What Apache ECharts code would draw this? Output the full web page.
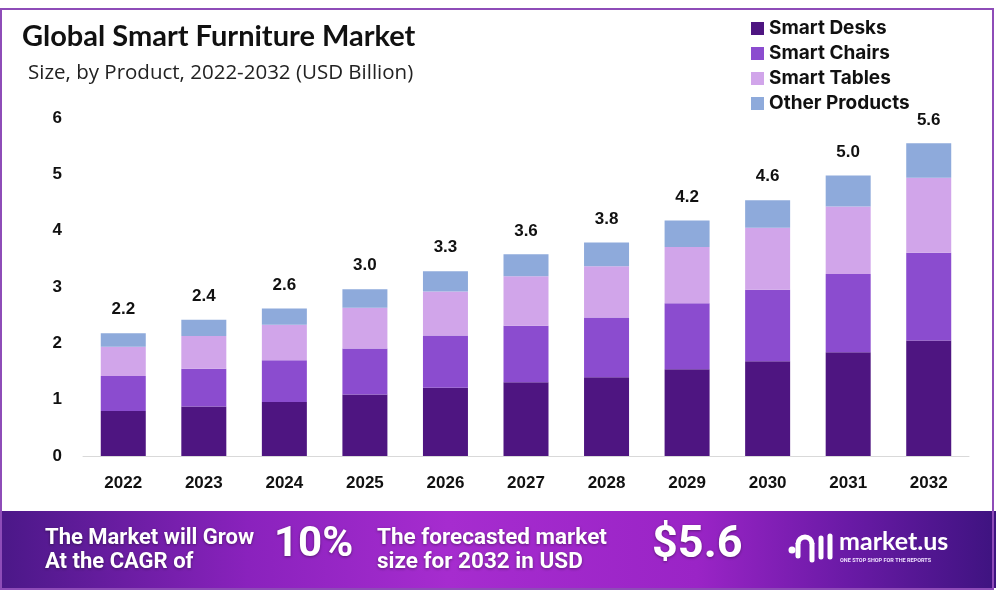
<!DOCTYPE html>
<html>
<head>
<meta charset="utf-8">
<script src="https://cdn.jsdelivr.net/npm/echarts@6/dist/echarts.min.js"></script>
<style>html,body{margin:0;padding:0;background:#fff}#c{width:996px;height:600px}</style>
</head>
<body>
<div id="c"></div>
<script>
const years = ['2022','2023','2024','2025','2026','2027','2028','2029','2030','2031','2032'];
const smartDesks    = [0.80, 0.88, 0.96, 1.09, 1.21, 1.31, 1.40, 1.54, 1.68, 1.84, 2.05];
const smartChairs   = [0.62, 0.67, 0.74, 0.82, 0.93, 1.00, 1.06, 1.17, 1.27, 1.39, 1.56];
const smartTables   = [0.52, 0.58, 0.63, 0.72, 0.78, 0.88, 0.91, 1.00, 1.10, 1.20, 1.33];
const otherProducts = [0.24, 0.29, 0.29, 0.33, 0.36, 0.39, 0.42, 0.47, 0.49, 0.55, 0.61];
const totalLabels   = ['2.2','2.4','2.6','3.0','3.3','3.6','3.8','4.2','4.6','5.0','5.6'];
const yTicks = [0,1,2,3,4,5,6];

const chart = echarts.init(document.getElementById('c'));
const numFont = 'Liberation Sans';
function barSeries(name, data, color, withLabel) {
  const s = {
    name, type: 'bar', stack: 'total', data, barWidth: 45,
    itemStyle: { color },
    emphasis: { disabled: true }
  };
  if (withLabel) {
    s.label = {
      show: true, position: 'top', distance: 15,
      formatter: p => totalLabels[p.dataIndex],
      fontFamily: numFont, fontWeight: 'bold', fontSize: 17, color: '#111'
    };
  }
  return s;
}
const shadow = { textShadowColor: 'rgba(0,0,0,0.4)', textShadowBlur: 3, textShadowOffsetY: 1 };
chart.setOption({
  animation: false,
  backgroundColor: '#fff',
  title: [
    { text: 'Global Smart Furniture Market', left: 17, top: 17,
      textStyle: { fontFamily: 'Lato', fontWeight: 'bold', fontSize: 29, color: '#111' } },
    { text: 'Size, by Product, 2022-2032 (USD Billion)', left: 23, top: 58,
      textStyle: { fontFamily: 'Open Sans', fontWeight: 'normal', fontSize: 20.5, color: '#222' } }
  ],
  legend: {
    orient: 'vertical', left: 746, top: 14, itemWidth: 13, itemHeight: 13, itemGap: 6,
    icon: 'rect',
    textStyle: { fontFamily: 'Inter', fontWeight: 'bold', fontSize: 19, color: '#111' },
    data: ['Smart Desks','Smart Chairs','Smart Tables','Other Products']
  },
  grid: { left: 83, right: 27, top: 118, bottom: 144 },
  xAxis: {
    type: 'category', data: years,
    axisLine: { lineStyle: { color: '#d9d9d9', width: 1 } },
    axisTick: { show: false },
    axisLabel: { margin: 19, fontFamily: numFont, fontWeight: 'bold', fontSize: 17, color: '#111' }
  },
  yAxis: {
    type: 'value', min: yTicks[0], max: yTicks[yTicks.length-1], interval: 1,
    splitLine: { show: false }, axisLine: { show: false }, axisTick: { show: false },
    axisLabel: { margin: 21, fontFamily: numFont, fontWeight: 'bold', fontSize: 17, color: '#111' }
  },
  series: [
    barSeries('Smart Desks', smartDesks, '#4e1581'),
    barSeries('Smart Chairs', smartChairs, '#8b4ccf'),
    barSeries('Smart Tables', smartTables, '#d1a5ea'),
    barSeries('Other Products', otherProducts, '#8eaadb', true)
  ],
  graphic: [
    { type: 'rect', x: 0, y: 511, z: -1, shape: { x: 0, y: 0, width: 996, height: 77 },
      style: { fill: new echarts.graphic.LinearGradient(0,0,1,0,[
        {offset:0,color:'#4b1888'},{offset:0.25,color:'#8a22bd'},{offset:0.45,color:'#a62ccf'},
        {offset:0.7,color:'#9a24c6'},{offset:0.85,color:'#6a1aa6'},{offset:1,color:'#3e1380'}]) } },
    { type: 'rect', x: 1, y: 9, z: 10, shape: { x: 0, y: 0, width: 992, height: 580 },
      style: { fill: 'none', stroke: '#8e4cb8', lineWidth: 2 } },
    { type: 'text', x: 45, y: 526, z: 20,
      style: Object.assign({ text: 'The Market will Grow\nAt the CAGR of', fill: '#fff', font: 'bold 22px "Roboto"', lineHeight: 24 }, shadow) },
    { type: 'text', x: 274, y: 524, z: 20,
      style: Object.assign({ text: '10%', fill: '#fff', font: 'bold 42px "Roboto"' }, shadow) },
    { type: 'text', x: 377, y: 526, z: 20,
      style: Object.assign({ text: 'The forecasted market\nsize for 2032 in USD', fill: '#fff', font: 'bold 22.5px "Roboto"', lineHeight: 24 }, shadow) },
    { type: 'text', x: 652, y: 523, z: 20,
      style: Object.assign({ text: '$5.6', fill: '#fff', font: 'bold 45px "Roboto"' }, shadow) },
    { type: 'group', x: 789, y: 530, z: 20, children: [
      { type: 'circle', shape: { cx: 3, cy: 20, r: 3.5 }, style: { fill: '#fff' } },
      { type: 'arc', shape: { cx: 16, cy: 14, r: 7, startAngle: Math.PI, endAngle: 2*Math.PI, clockwise: true },
        style: { stroke: '#fff', lineWidth: 5, fill: 'none' } },
      { type: 'line', shape: { x1: 9, y1: 14, x2: 9, y2: 26 }, style: { stroke: '#fff', lineWidth: 5, lineCap: 'round' } },
      { type: 'line', shape: { x1: 23, y1: 14, x2: 23, y2: 30 }, style: { stroke: '#fff', lineWidth: 5, lineCap: 'round' } },
      { type: 'line', shape: { x1: 32, y1: 8, x2: 32, y2: 27 }, style: { stroke: '#fff', lineWidth: 5, lineCap: 'round' } },
      { type: 'line', shape: { x1: 41, y1: 6, x2: 41, y2: 27 }, style: { stroke: '#fff', lineWidth: 5, lineCap: 'round' } }
    ] },
    { type: 'text', x: 839, y: 529, z: 20,
      style: { text: 'market.us', fill: '#fff', font: 'bold 25px "Lato"' } },
    { type: 'text', x: 840, y: 558, z: 20,
      style: { text: 'ONE STOP SHOP FOR THE REPORTS', fill: '#f0e0ff', font: 'bold 5.5px "Roboto"' } }
  ]
});
</script>
</body>
</html>
